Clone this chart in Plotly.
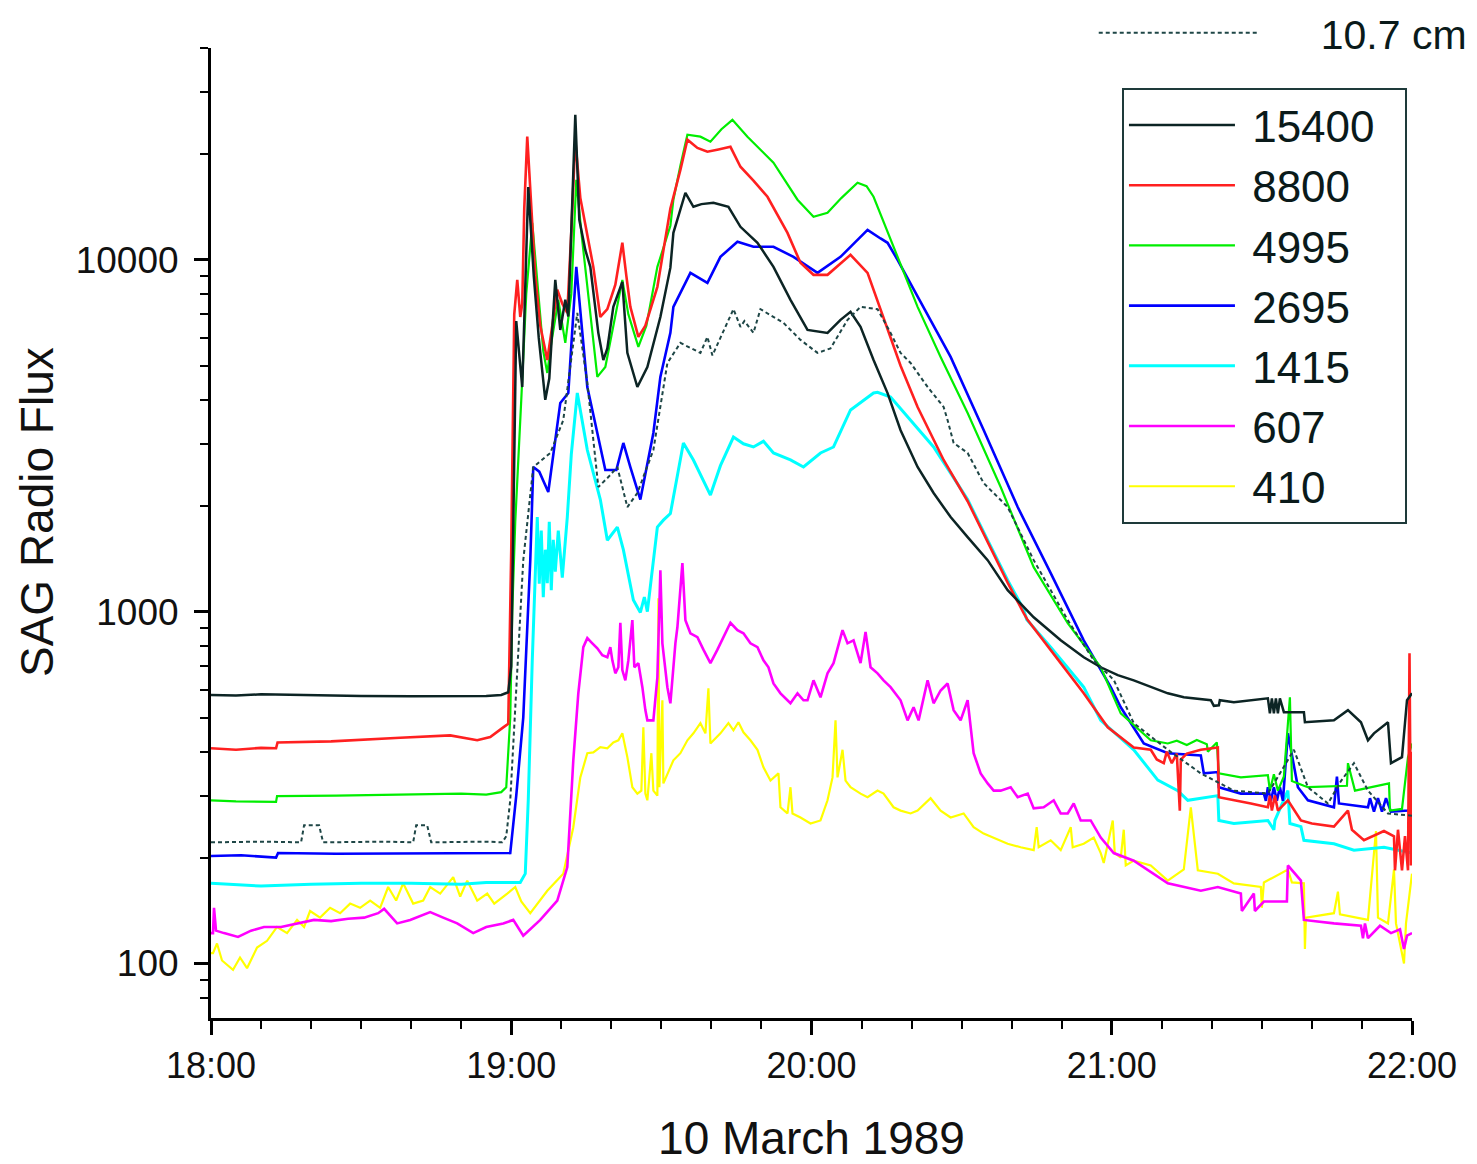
import math
import pandas as pd
import plotly.graph_objects as go

# ---------------- data (minutes after 18:00 UT, flux) ----------------
S15400 = [(0, 580), (5, 578), (10, 582), (20, 578), (30, 576), (40, 575), (50, 574), (55, 576), (58, 580),
          (59.4, 590), (60.0, 700), (60.6, 3000), (61.0, 6700), (61.8, 5000), (62.2, 4350), (63.4, 16100),
          (64.5, 9000), (65.5, 6000), (66.8, 4000), (67.6, 4600), (68.8, 8770), (69.8, 6320), (70.8, 7700),
          (71.4, 6900), (72.2, 14000), (72.8, 25850), (73.6, 13000), (74.8, 10670), (75.8, 9550), (77.4, 6200),
          (78.4, 5190), (79.2, 5600), (80.4, 7350), (82.2, 8660), (83.2, 5440), (85.2, 4350), (87.2, 4960),
          (89.8, 6880), (91.8, 9500), (92.4, 11930), (94.8, 15510), (96.4, 14150), (98.0, 14400), (100.4, 14530),
          (103.4, 14150), (105.8, 12410), (109.2, 11180), (112.4, 9550), (115.8, 7695), (119.2, 6320),
          (123.2, 6200), (125.8, 6750), (127.8, 7114), (129.8, 6450), (132.4, 5190), (135.2, 4180), (137.8, 3280),
          (141.2, 2577), (144.4, 2174), (147.8, 1857), (151.2, 1629), (155.2, 1401), (159.2, 1151), (164.4, 964),
          (169.8, 829), (174.4, 742), (177.8, 695), (181.2, 660), (184.4, 638), (191.2, 586), (194.4, 571),
          (199.8, 560), (200.4, 540), (201.4, 542), (201.6, 560), (204.4, 553), (211.2, 567), (211.6, 514),
          (212.0, 567), (212.4, 514), (212.8, 567), (213.2, 514), (213.6, 567), (214.4, 518), (216.4, 518),
          (218.4, 518), (218.6, 485), (224.4, 491), (227.2, 525), (229.8, 485), (231.2, 431), (232.4, 451),
          (235.2, 485), (235.8, 371), (238.0, 386), (239.0, 560), (240, 586)]

S8800 = [(0, 409), (5, 405), (10, 410), (13.0, 409), (13.3, 425), (24, 428), (37.8, 438), (47.8, 445), (53.2, 431),
         (55.8, 440), (58.4, 469), (59.4, 480), (60.0, 1500), (60.6, 7000), (61.2, 8770), (61.8, 6880),
         (62.2, 7500), (62.6, 14000), (63.2, 22390), (63.8, 16000), (64.8, 9000), (65.8, 6500), (67.2, 5190),
         (68.2, 6500), (69.2, 8220), (70.2, 7500), (71.2, 7070), (72.0, 12000), (72.8, 21940), (73.8, 15000),
         (75.2, 11630), (76.4, 9550), (77.8, 6880), (79.2, 7240), (80.8, 8500), (82.2, 11180), (83.0, 9000),
         (83.8, 7350), (85.4, 6040), (86.8, 6500), (89.2, 8380), (90.4, 10500), (91.8, 14000), (93.8, 18000),
         (95.2, 21950), (97.2, 20800), (99.2, 20290), (101.4, 20600), (103.8, 20950), (105.8, 18390),
         (108.4, 16800), (111.2, 15110), (115.2, 11930), (117.8, 9806), (120.4, 9065), (123.2, 9065),
         (127.8, 10330), (131.2, 9180), (134.4, 6880), (137.8, 5000), (141.2, 3818), (144.4, 3075),
         (146.4, 2698), (151.2, 2060), (155.2, 1570), (159.2, 1210), (162.4, 990), (163.2, 946), (169.8, 714),
         (174.4, 586), (179.2, 469), (184.4, 411), (187.8, 405), (189.0, 380), (190.4, 371), (191.0, 400),
         (192.0, 371), (193.0, 395), (193.6, 272), (193.8, 380), (195.0, 395), (197.8, 405), (201.2, 411),
         (201.4, 297), (207.8, 285), (211.2, 278), (211.6, 300), (212.0, 272), (212.6, 300), (213.2, 272),
         (215.2, 291), (217.8, 255), (220, 250), (224.4, 245), (227.2, 272), (228.0, 240), (230.4, 224),
         (234.4, 238), (236.4, 230), (236.6, 184), (237.2, 240), (238.0, 184), (238.6, 230), (239.2, 184),
         (239.5, 762), (239.8, 190), (240, 400)]

S4995 = [(0, 291), (5, 289), (13.0, 288), (13.2, 299), (25, 300), (40, 303), (50, 304), (55, 302), (58.0, 307),
         (59.0, 317), (59.8, 500), (60.2, 1000), (60.8, 1800), (62.0, 4000), (63.0, 8000), (64.2, 12740),
         (65.4, 8000), (66.4, 5500), (67.2, 4770), (68.0, 5800), (69.4, 7690), (70.8, 5806), (72.0, 8000),
         (73.0, 16890), (74.0, 12000), (75.2, 8380), (77.2, 4650), (78.8, 4960), (80.4, 6500), (82.2, 8770),
         (83.4, 7000), (85.4, 5657), (87.0, 6500), (89.2, 9550), (91.8, 12500), (92.4, 14820), (93.8, 18500),
         (95.2, 22680), (97.8, 22390), (99.8, 21670), (102.0, 23500), (104.2, 25000), (107.2, 22390),
         (112.4, 18880), (117.2, 14820), (120.4, 13260), (123.2, 13610), (126.0, 15000), (129.2, 16560),
         (131.0, 16200), (132.4, 15110), (136.4, 10890), (141.2, 7350), (145.8, 5297), (151.2, 3670),
         (157.8, 2261), (164.4, 1338), (171.2, 927), (177.8, 695), (181.8, 514), (187.8, 431), (191.2, 422),
         (193.0, 430), (195.0, 418), (197.0, 432), (199.0, 420), (199.2, 400), (201.0, 425), (201.4, 347),
         (205.8, 338), (211.2, 343), (211.6, 310), (212.4, 345), (213.2, 310), (214.4, 340), (215.6, 571),
         (216.0, 330), (218.4, 320), (219.2, 317), (227.0, 320), (227.2, 371), (228.6, 310), (235.4, 325),
         (235.6, 272), (238.0, 275), (239.2, 386), (240, 422)]

S2695 = [(0, 202), (6, 203), (13, 200), (13.4, 206), (25, 205), (40, 205), (50, 206), (58, 206), (59.8, 206),
         (61.0, 300), (62.4, 500), (63.8, 1400), (64.4, 2577), (65.6, 2500), (67.4, 2188), (69.8, 3920),
         (71.4, 4180), (73.0, 9550), (75.2, 4350), (77.2, 3220), (78.8, 2527), (81.0, 2527), (82.4, 3016),
         (83.8, 2577), (85.8, 2083), (88.4, 3220), (89.8, 4647), (91.8, 6200), (92.4, 7350), (95.8, 9180),
         (99.2, 8603), (101.8, 10200), (105.2, 11250), (108.4, 10890), (112.4, 10890), (116.4, 10200),
         (121.2, 9180), (125.8, 10200), (131.2, 12170), (133.8, 11500), (135.2, 11180), (137.2, 10000),
         (141.2, 7847), (147.8, 5297), (154.4, 3284), (161.2, 1983), (167.8, 1287), (174.4, 829), (179.8, 610),
         (181.8, 535), (186.4, 422), (191.2, 396), (197.8, 390), (198.4, 347), (201.2, 350), (201.4, 317),
         (205.8, 304), (210.4, 304), (210.8, 290), (211.2, 317), (211.8, 290), (212.4, 317), (213.0, 290),
         (213.6, 317), (214.2, 290), (215.2, 451), (217.2, 317), (219.2, 291), (224.4, 278), (225.0, 340),
         (225.4, 285), (231.2, 278), (231.6, 295), (232.4, 270), (233.2, 295), (234.0, 270), (234.8, 295),
         (235.8, 270), (239.2, 272), (240, 278)]

S10CM = [(0, 221), (10, 222), (18.0, 221), (18.6, 247), (21.6, 247), (22.4, 221), (35, 222), (40.4, 221),
         (41.0, 247), (43.2, 247), (44, 221), (55, 222), (58.2, 221), (59.0, 230), (59.8, 291), (61.0, 600),
         (62.4, 1400), (64.4, 2577), (67.8, 2825), (70.4, 3505), (73.2, 7070), (75.2, 4467), (77.4, 2261),
         (79.4, 2413), (81.2, 2577), (83.2, 1983), (85.2, 2174), (88.4, 2880), (91.2, 5090), (93.8, 5806),
         (97.8, 5438), (99.2, 6040), (100.2, 5350), (104.4, 7240), (105.8, 6450), (106.6, 6700), (108.4, 6200),
         (109.8, 7240), (114.4, 6620), (117.8, 5922), (121.2, 5438), (123.8, 5600), (127.2, 6750), (129.8, 7350),
         (133.2, 7240), (135.8, 6200), (137.8, 5438), (139.8, 5090), (143.2, 4352), (146.4, 3818), (147.2, 3500),
         (148.4, 3016), (151.2, 2825), (154.4, 2320), (159.2, 1983), (164.4, 1401), (171.2, 946), (176.4, 728),
         (180.4, 640), (184.4, 482), (191.2, 405), (197.8, 347), (204.4, 310), (211.2, 304), (215.2, 380),
         (216.4, 405), (219.2, 317), (223.2, 285), (225.8, 330), (228.4, 371), (231.2, 310), (235.2, 267),
         (240, 263)]

S1415 = [(0, 169), (10, 166), (20, 168), (30, 169), (40, 169), (50, 168), (55, 170), (61.8, 170), (62.8, 180),
         (63.4, 291), (64.2, 728), (64.8, 1400), (65.2, 1857), (65.6, 1200), (66.0, 1700), (66.4, 1100),
         (66.8, 1500), (67.2, 1205), (67.6, 1800), (68.0, 1150), (68.4, 1600), (68.8, 1300), (69.4, 1700),
         (70.2, 1250), (71.2, 1857), (72.0, 2800), (73.2, 4183), (75.2, 2880), (77.8, 2083), (79.2, 1596),
         (81.2, 1739), (82.4, 1500), (84.4, 1079), (85.8, 995), (86.6, 1100), (87.2, 1000), (88.4, 1400),
         (89.2, 1739), (90.4, 1820), (91.8, 1900), (94.4, 3016), (96.4, 2698), (99.8, 2145), (101.8, 2600),
         (104.4, 3135), (106.4, 3000), (108.4, 2938), (110.4, 3050), (112.4, 2825), (115.8, 2700), (118.4, 2577),
         (121.8, 2825), (124.4, 2938), (127.8, 3744), (132.4, 4183), (133.2, 4200), (135.8, 4076), (139.8, 3505),
         (144.4, 2938), (147.8, 2477), (151.2, 2083), (155.2, 1596), (159.2, 1229), (162.4, 1014), (163.0, 950),
         (167.8, 793), (174.4, 610), (177.8, 491), (184.4, 405), (189.2, 332), (191.2, 320), (193.2, 310),
         (195.2, 291), (198.0, 295), (201.2, 300), (201.4, 255), (204.4, 250), (211.2, 255), (212.4, 240),
         (212.6, 255), (215.2, 310), (215.6, 250), (217.8, 245), (218.4, 224), (224.4, 219), (228.4, 210),
         (234.4, 214), (240, 206)]

S607 = [(0, 122), (0.4, 122), (0.6, 144), (1.0, 124), (2.6, 122), (5.4, 119), (8.0, 124), (10.6, 127), (14.0, 127),
        (17.2, 130), (20.6, 133), (24.0, 132), (27.4, 134), (30.6, 135), (33.4, 139), (34.6, 143), (37.2, 130),
        (39.8, 133), (43.8, 140), (46.4, 135), (49.2, 130), (52.4, 122), (55.0, 127), (58.4, 130), (60.4, 133),
        (62.4, 120), (65.8, 133), (69.2, 151), (71.2, 188), (72.4, 378), (73.4, 586), (74.4, 793), (75.2, 841),
        (76.2, 813), (77.2, 787), (78.2, 752), (79.2, 742), (79.8, 793), (80.2, 727), (80.8, 668), (81.4, 695),
        (81.8, 930), (82.2, 682), (82.8, 638), (83.4, 727), (84.2, 946), (84.6, 695), (85.4, 714), (86.2, 610),
        (86.8, 525), (87.2, 491), (88.4, 491), (89.2, 651), (89.8, 1312), (90.2, 813), (91.2, 610), (91.8, 549),
        (92.8, 813), (93.2, 903), (94.2, 1374), (94.8, 946), (95.8, 868), (97.2, 846), (98.4, 780), (99.8, 714),
        (101.2, 780), (102.4, 846), (103.8, 930), (105.2, 886), (106.4, 868), (107.8, 813), (109.2, 793),
        (110.4, 727), (111.4, 695), (112.4, 625), (113.8, 586), (115.8, 549), (117.2, 586), (118.4, 560),
        (119.2, 560), (120.4, 638), (121.8, 571), (123.2, 668), (124.4, 714), (126.2, 886), (127.2, 813),
        (128.4, 829), (129.8, 714), (130.8, 876), (131.8, 695), (133.2, 668), (134.4, 638), (135.8, 610),
        (137.8, 560), (139.2, 491), (140.4, 535), (141.4, 491), (143.2, 638), (144.4, 549), (145.8, 597),
        (147.2, 625), (148.4, 525), (149.8, 491), (151.2, 560), (152.4, 396), (153.8, 347), (155.2, 325),
        (156.4, 310), (157.8, 310), (159.8, 317), (161.2, 297), (163.2, 304), (164.4, 276), (166.4, 278),
        (168.4, 291), (169.8, 267), (171.2, 267), (172.4, 285), (173.8, 255), (175.8, 255), (177.8, 228),
        (180.4, 206), (184.4, 196), (191.2, 169), (197.8, 161), (201.2, 165), (205.8, 158), (206.0, 141),
        (208.4, 158), (208.6, 141), (210.4, 150), (215.0, 150), (215.2, 190), (217.8, 172), (218.4, 133),
        (224.4, 130), (229.8, 128), (230.2, 118), (230.6, 130), (231.2, 118), (233.6, 128), (235.8, 122),
        (237.6, 125), (238.4, 110), (239.0, 120), (240, 122)]

S410 = [(0, 107), (0.4, 107), (1.2, 114), (2.2, 102), (4.4, 96), (5.8, 104), (7.2, 97), (9.2, 111), (11.2, 116),
        (13.2, 127), (15.2, 122), (17.2, 133), (18.6, 127), (19.8, 141), (21.8, 135), (23.8, 144), (25.8, 139),
        (27.8, 148), (29.8, 144), (31.8, 151), (33.8, 144), (35.4, 165), (37.0, 151), (38.4, 169), (40.4, 148),
        (42.4, 151), (43.8, 165), (45.8, 158), (48.4, 176), (49.8, 155), (51.2, 172), (53.2, 151), (55.2, 158),
        (56.6, 148), (59.2, 158), (60.8, 165), (62.0, 150), (63.8, 139), (67.2, 161), (70.4, 180), (72.4, 244),
        (73.8, 338), (75.2, 396), (76.4, 398), (77.8, 412), (79.2, 409), (80.4, 425), (81.4, 431), (82.2, 451),
        (83.2, 386), (84.2, 317), (85.2, 304), (86.0, 310), (86.4, 469), (86.8, 304), (87.2, 291), (88.0, 396),
        (88.4, 310), (89.2, 300), (89.4, 1092), (89.6, 317), (90.2, 560), (90.4, 325), (91.2, 347), (92.4, 378),
        (93.8, 396), (95.2, 431), (96.4, 451), (97.8, 482), (98.8, 451), (99.4, 606), (99.8, 422), (101.8, 451),
        (103.4, 482), (104.4, 460), (105.4, 485), (106.4, 454), (107.8, 431), (109.2, 405), (110.4, 361),
        (111.8, 331), (113.4, 347), (113.8, 278), (115.2, 267), (115.8, 317), (116.2, 267), (117.8, 260),
        (119.8, 250), (121.8, 255), (123.2, 291), (124.2, 338), (124.8, 491), (125.2, 338), (126.2, 405),
        (126.8, 331), (127.8, 317), (129.8, 304), (131.2, 297), (133.2, 310), (134.4, 304), (136.4, 278),
        (137.8, 272), (139.8, 267), (141.2, 272), (143.8, 295), (145.8, 272), (147.8, 260), (150.4, 267),
        (152.4, 244), (154.4, 234), (156.4, 228), (159.2, 219), (161.8, 214), (164.4, 210), (165.0, 244),
        (165.4, 214), (167.8, 224), (169.8, 210), (171.8, 244), (172.2, 214), (174.4, 219), (176.4, 228),
        (177.8, 206), (178.4, 193), (180.2, 255), (180.6, 206), (181.8, 200), (182.4, 240), (182.8, 190),
        (184.4, 196), (187.8, 190), (191.2, 172), (194.4, 185), (195.8, 278), (197.2, 184), (201.2, 180),
        (204.4, 169), (209.8, 165), (210.0, 144), (210.4, 170), (215.2, 185), (216.0, 170), (218.4, 169),
        (218.6, 110), (218.8, 135), (224.4, 139), (225.2, 160), (225.6, 138), (231.2, 133), (232.8, 238),
        (233.2, 135), (235.2, 130), (236.4, 185), (236.8, 130), (238.4, 100), (238.8, 130), (240, 180)]

Y_MAJOR = [100, 1000, 10000]
Y_MAJOR_TEXT = ["100", "1000", "10000"]
Y_MINOR = [80, 90, 200, 300, 400, 500, 600, 700, 800, 900, 2000, 3000, 4000, 5000, 6000, 7000, 8000, 9000,
           20000, 30000, 40000]
Y_RANGE = [70, 40000]

BASE = pd.Timestamp("1989-03-10 18:00")
X_END = pd.Timestamp("1989-03-10 22:00")


def unpack(series):
    xs = [BASE + pd.Timedelta(minutes=m) for m, _ in series]
    ys = [v for _, v in series]
    return xs, ys


FONT = "Liberation Sans, Arial, sans-serif"
NB = "\u00a0"
fig = go.Figure()

# drawing order (back to front); legendrank sets the legend order
specs = [
    ("410", S410, "#ffff00", 2.2, "solid", 7, "legend"),
    ("607", S607, "#ff00ff", 2.6, "solid", 6, "legend"),
    ("1415", S1415, "#00ffff", 3.0, "solid", 5, "legend"),
    ("2695", S2695, "#0000ff", 2.6, "solid", 4, "legend"),
    ("4995", S4995, "#00ee00", 2.2, "solid", 3, "legend"),
    ("8800", S8800, "#ff2020", 2.6, "solid", 2, "legend"),
    ("15400", S15400, "#0c2424", 2.5, "solid", 1, "legend"),
    ("10.7 cm", S10CM, "#1e4646", 2.0, "4px,3px", 0, "legend2"),
]
for name, data, color, width, dash, rank, leg in specs:
    xs, ys = unpack(data)
    label = (NB * 5 + name) if leg == "legend2" else (NB + name + NB + NB)
    fig.add_trace(go.Scatter(x=xs, y=ys, mode="lines", name=label,
                             line=dict(color=color, width=width, dash=dash),
                             legendrank=rank, legend=leg))

fig.update_layout(
    width=1469, height=1156,
    margin=dict(l=203, r=65, t=40, b=146, autoexpand=False),
    paper_bgcolor="white", plot_bgcolor="white",
    font=dict(family=FONT, color="#111111"),
    showlegend=True,
    legend=dict(x=0.7585, y=0.9588, xanchor="left", yanchor="top",
                bgcolor="white", bordercolor="#1e3a3a", borderwidth=2,
                font=dict(size=44, family=FONT, color="#0a1a1a"),
                itemwidth=106, tracegroupgap=0, traceorder="normal"),
    legend2=dict(x=0.735, y=1.05, xanchor="left", yanchor="top",
                 bgcolor="rgba(0,0,0,0)", borderwidth=0,
                 font=dict(size=41, family=FONT, color="#0a1a1a"),
                 itemwidth=160),
    annotations=[dict(text="SAG Radio Flux", xref="paper", yref="paper", x=-0.1449, y=0.5216,
                      xanchor="center", yanchor="middle", textangle=-90, showarrow=False,
                      font=dict(size=46, family=FONT, color="#111111"))],
)

fig.update_xaxes(
    type="date", range=[BASE, X_END],
    tickformat="%H:%M", dtick=3600000, tick0=BASE,
    showgrid=False, zeroline=False,
    showline=True, linecolor="black", linewidth=3,
    ticks="outside", ticklen=14, tickwidth=2.5, tickcolor="black",
    tickfont=dict(size=36, family=FONT, color="#111111"),
    minor=dict(dtick=600000, ticks="outside", ticklen=8, tickwidth=2, tickcolor="black", showgrid=False),
    title=dict(text="10 March 1989", font=dict(size=46, family=FONT, color="#111111"), standoff=40),
)

fig.update_yaxes(
    type="log", range=[math.log10(Y_RANGE[0]), math.log10(Y_RANGE[1])],
    tickvals=Y_MAJOR, ticktext=Y_MAJOR_TEXT,
    showgrid=False, zeroline=False,
    showline=True, linecolor="black", linewidth=3,
    ticks="outside", ticklen=14, tickwidth=2.5, tickcolor="black",
    tickfont=dict(size=37, family=FONT, color="#111111"),
    ticklabelstandoff=8,
    minor=dict(tickvals=Y_MINOR, ticks="outside", ticklen=8, tickwidth=2, tickcolor="black", showgrid=False),
)

fig.write_html("out.html")
